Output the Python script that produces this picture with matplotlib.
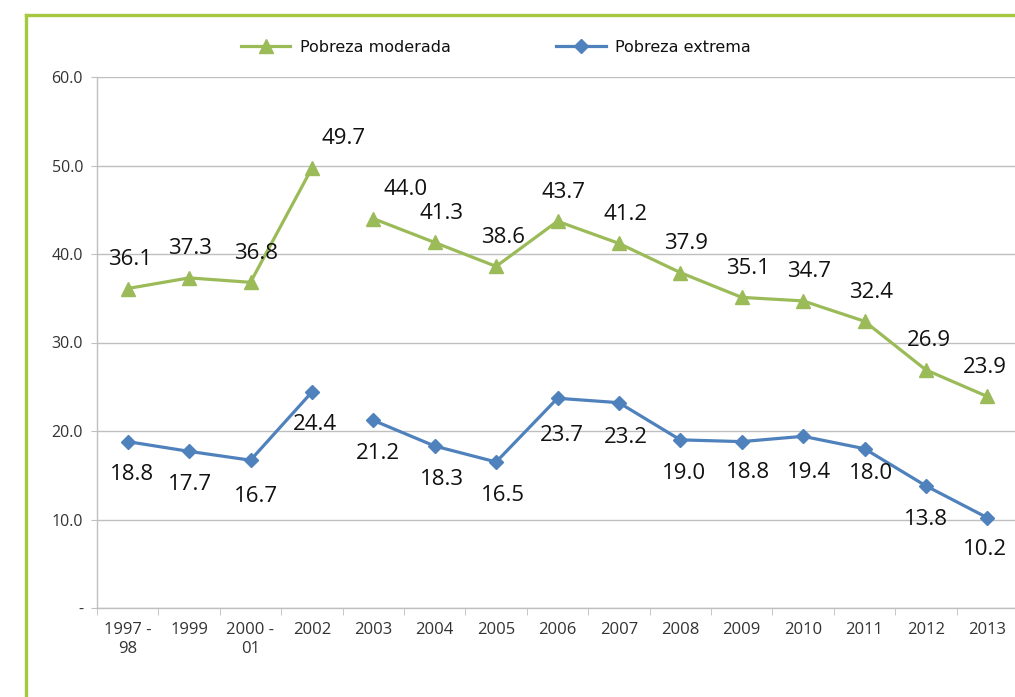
import matplotlib
matplotlib.use("Agg")
import matplotlib.pyplot as plt
from matplotlib.lines import Line2D
import numpy as np

categories = ["1997 -\n98", "1999", "2000 -\n01", "2002", "2003", "2004", "2005",
              "2006", "2007", "2008", "2009", "2010", "2011", "2012", "2013"]
moderada = [36.1, 37.3, 36.8, 49.7, 44.0, 41.3, 38.6, 43.7, 41.2, 37.9, 35.1, 34.7, 32.4, 26.9, 23.9]
extrema = [18.8, 17.7, 16.7, 24.4, 21.2, 18.3, 16.5, 23.7, 23.2, 19.0, 18.8, 19.4, 18.0, 13.8, 10.2]
break_after = 3  # series are interrupted between 2002 and 2003
yticks = [0, 10, 20, 30, 40, 50, 60]
ytick_labels = ["-", "10.0", "20.0", "30.0", "40.0", "50.0", "60.0"]

# label offsets in points (dx, dy)
mod_dx = [1.5, 1, 4, 23, 23, 5, 5, 4.5, 5, 4.5, 4.5, 4.5, 4.5, 2, -2]
ext_dx = [3, 1, 4, 2, 3, 5, 5, 3, 5, 3, 4.5, 4.5, 4.5, 0, -2]
ext_dy = [-24, -24, -26, -23, -24, -24, -24, -27, -25, -24, -22, -26, -18, -24, -23]

GREEN = "#9BBB59"
BLUE = "#4F81BD"
GRID = "#BFBFBF"
TXT = "#333333"

fig = plt.figure(figsize=(10.15, 6.97), dpi=100)
ax = fig.add_axes([97 / 1015, 1 - 608 / 697, 921 / 1015, (608 - 77) / 697])

x = np.arange(len(categories))
segs = [slice(0, break_after + 1), slice(break_after + 1, None)]
for i, s in enumerate(segs):
    ax.plot(x[s], moderada[s], color=GREEN, lw=2.3, marker="^", ms=9.5,
            label="Pobreza moderada" if i == 0 else None, zorder=3)
    ax.plot(x[s], extrema[s], color=BLUE, lw=2.3, marker="D", ms=7.5,
            label="Pobreza extrema" if i == 0 else None, zorder=3)

lab_font = dict(family=["Open Sans", "DejaVu Sans"], size=16, color="#111111")
for i, v in enumerate(moderada):
    ax.annotate(f"{v:.1f}", (x[i], v), xytext=(mod_dx[i], 21), textcoords="offset points",
                ha="center", va="center", **lab_font)
for i, v in enumerate(extrema):
    ax.annotate(f"{v:.1f}", (x[i], v), xytext=(ext_dx[i], ext_dy[i]), textcoords="offset points",
                ha="center", va="center", **lab_font)

ax.set_xlim(-0.5, len(categories) - 0.5)
ax.set_ylim(0, 60)
ax.set_yticks(yticks)
ax.set_yticklabels(ytick_labels, family=["Open Sans", "DejaVu Sans"], fontsize=11.5, color=TXT)
ax.set_xticks(x)
ax.set_xticklabels(categories, family=["Open Sans", "DejaVu Sans"], fontsize=12, color=TXT,
                   linespacing=1.25, va="top")
ax.set_xticks(np.arange(-0.5, len(categories), 1), minor=True)
ax.tick_params(axis="x", which="major", length=0, pad=10)
ax.tick_params(axis="x", which="minor", length=5, color=GRID, direction="out")
ax.tick_params(axis="y", length=4, color=GRID, pad=6)
ax.grid(axis="y", color=GRID, lw=1)
ax.set_axisbelow(True)
for sp in ["top", "right"]:
    ax.spines[sp].set_visible(False)
for sp in ["left", "bottom"]:
    ax.spines[sp].set_color(GRID)
    ax.spines[sp].set_linewidth(1)

leg = ax.legend(loc="center", bbox_to_anchor=(496 / 1015, 1 - 47 / 697),
                bbox_transform=fig.transFigure, ncol=2, frameon=False,
                prop=dict(family="DejaVu Sans", size=11.5), handlelength=3.1,
                handletextpad=0.6, columnspacing=6.6)
for t in leg.get_texts():
    t.set_color("#111111")

# green frame
fig.add_artist(Line2D([26 / 1015, 1.0], [1 - 15 / 697, 1 - 15 / 697], transform=fig.transFigure,
                      color="#A5C83F", lw=2.4))
fig.add_artist(Line2D([26 / 1015, 26 / 1015], [0, 1 - 15 / 697], transform=fig.transFigure,
                      color="#A5C83F", lw=2.4))

fig.savefig("out.png", dpi=100)
